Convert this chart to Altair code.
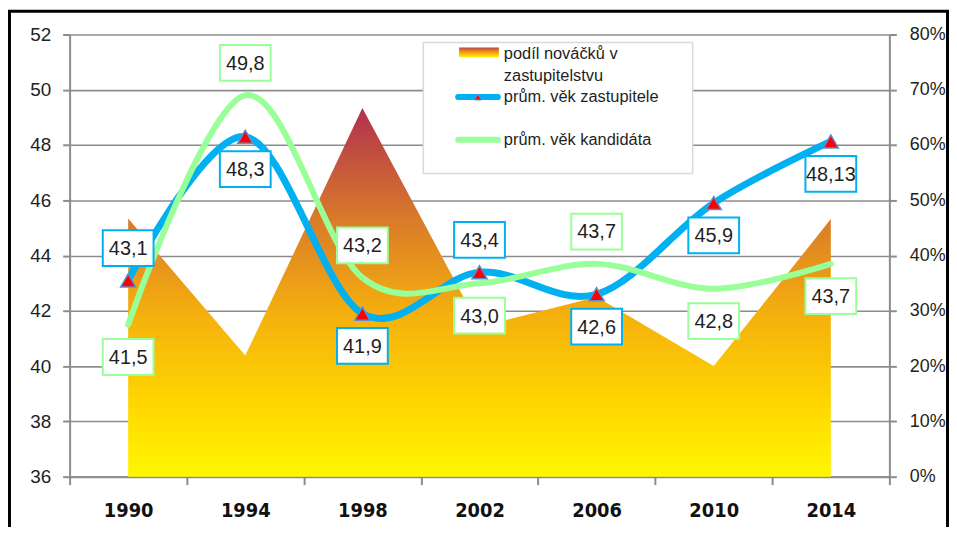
import altair as alt
import pandas as pd

# ---- data ----
years = ["1990", "1994", "1998", "2002", "2006", "2010", "2014"]
age_rep = [43.1, 48.3, 41.9, 43.4, 42.6, 45.9, 48.13]      # prům. věk zastupitele
age_cand = [41.5, 49.8, 43.2, 43.0, 43.7, 42.8, 43.7]      # prům. věk kandidáta
newcomer_share = [0.467, 0.219, 0.667, 0.271, 0.325, 0.200, 0.466]  # podíl nováčků
rep_label_side = [1, -1, -1, 1, -1, -1, -1]     # 1 = label above point, -1 = below
cand_label_side = [-1, 1, 1, -1, 1, -1, -1]
left_ticks = [36, 38, 40, 42, 44, 46, 48, 50, 52]
right_ticks = [0, 0.1, 0.2, 0.3, 0.4, 0.5, 0.6, 0.7, 0.8]

BLUE = "#00b0f0"
GREEN = "#99ff99"
GRAY = "#8c8c8c"
TXT = "#1f1f1f"
FONT = "Liberation Sans"
LABEL_OFF = 1.17  # label offset in axis units

def fmt(v):
    return str(v).replace(".", ",")

share_df = pd.DataFrame({"year": years, "share": newcomer_share})
rep_df = pd.DataFrame({"year": years, "value": age_rep, "side": rep_label_side,
                       "label": [fmt(v) for v in age_rep]})
cand_df = pd.DataFrame({"year": years, "value": age_cand, "side": cand_label_side,
                        "label": [fmt(v) for v in age_cand]})

W, H = 825, 445

X = alt.X("year:N", title=None,
          scale=alt.Scale(domain=years, paddingInner=0, paddingOuter=0),
          axis=alt.Axis(labelAngle=0, tickBand="extent", tickSize=8, grid=False,
                        labelFont="Liberation Sans Narrow, DejaVu Sans Condensed, Liberation Sans",
                        labelFontWeight="bold", labelFontSize=20, labelColor="#111",
                        labelPadding=16))

def Y(field):
    return alt.Y(field, title=None, scale=alt.Scale(domain=[36, 52], nice=False, zero=False),
                 axis=alt.Axis(values=left_ticks, grid=True, tickSize=7, labelPadding=12,
                               orient="left"))

grad = alt.Gradient(
    gradient="linear",
    stops=[alt.GradientStop(color="#b0304f", offset=0),
           alt.GradientStop(color="#d97a2a", offset=0.3),
           alt.GradientStop(color="#f4ae0e", offset=0.55),
           alt.GradientStop(color="#ffd600", offset=0.8),
           alt.GradientStop(color="#fff700", offset=1)],
    x1=0, x2=0, y1=0, y2=1)

area = alt.Chart(share_df).mark_area(color=grad, interpolate="linear").encode(
    x=X,
    y=alt.Y("share:Q", title=None, scale=alt.Scale(domain=[0, 0.8], nice=False),
            axis=alt.Axis(orient="right", format=".0%", values=right_ticks, grid=False,
                          tickSize=7, labelPadding=13, labelFontSize=18)),
)

rep_line = alt.Chart(rep_df).mark_line(color=BLUE, strokeWidth=7, interpolate="cardinal",
                                       strokeCap="round").encode(x=X, y=Y("value:Q"))
cand_line = alt.Chart(cand_df).mark_line(color=GREEN, strokeWidth=6, interpolate="cardinal",
                                         strokeCap="round").encode(x=X, y=Y("value:Q"))
tri = alt.Chart(rep_df).mark_point(shape="triangle-up", filled=True, fill="#ff0000",
                                   stroke="#5b8fd0", strokeWidth=1.5, size=230,
                                   opacity=1).encode(x=X, y=Y("value:Q"))

BOX = "M -1.42 -1 L 1.42 -1 L 1.42 1 L -1.42 1 Z"

def labels(df, col):
    base = alt.Chart(df).transform_calculate(
        ly=f"datum.value + datum.side * {LABEL_OFF}")
    box = base.mark_point(shape=BOX, filled=True, fill="white", stroke=col, strokeWidth=2,
                          size=1296, opacity=1).encode(x=X, y=Y("ly:Q"))
    txt = base.mark_text(font=FONT, fontSize=20, color=TXT, align="center",
                         baseline="middle", dy=1).encode(x=X, y=Y("ly:Q"), text="label:N")
    return box, txt

rb, rt = labels(rep_df, BLUE)
cb, ct = labels(cand_df, GREEN)

ages = alt.layer(rep_line, cand_line, tri, rb, rt, cb, ct)

# ---- hand-drawn legend (pixel positions in plot coordinates) ----
one = alt.Data(values=[{"k": 1}])
leg_box = alt.Chart(one).mark_rect(fill="white", stroke="#d9d9d9", strokeWidth=1.5).encode(
    x=alt.value(356), x2=alt.value(627), y=alt.value(8), y2=alt.value(140))
leg_grad = alt.Gradient(
    gradient="linear",
    stops=[alt.GradientStop(color="#c0404a", offset=0),
           alt.GradientStop(color="#f0a010", offset=0.5),
           alt.GradientStop(color="#fff200", offset=1)],
    x1=0, x2=0, y1=0, y2=1)
leg_sw = alt.Chart(one).mark_rect(fill=leg_grad).encode(
    x=alt.value(392), x2=alt.value(432), y=alt.value(13), y2=alt.value(23))
leg_b = alt.Chart(one).mark_rule(color=BLUE, strokeWidth=6, strokeCap="round").encode(
    x=alt.value(391), x2=alt.value(431), y=alt.value(63))
leg_bt = alt.Chart(one).mark_point(shape="triangle-up", filled=True, fill="#ff0000",
                                   stroke="#5b8fd0", strokeWidth=1, size=45,
                                   opacity=1).encode(x=alt.value(411), y=alt.value(63))
leg_g = alt.Chart(one).mark_rule(color=GREEN, strokeWidth=6, strokeCap="round").encode(
    x=alt.value(391), x2=alt.value(431), y=alt.value(106))

def leg_text(t, y):
    return alt.Chart(one).mark_text(text=t, font=FONT, fontSize=16.5, color=TXT,
                                    align="left", baseline="middle").encode(
        x=alt.value(437), y=alt.value(y))

leg = [leg_box, leg_sw, leg_b, leg_bt, leg_g,
       leg_text("podíl nováčků v", 20), leg_text("zastupitelstvu", 42),
       leg_text("prům. věk zastupitele", 63), leg_text("prům. věk kandidáta", 106)]

border = alt.Chart(one).mark_rect(fillOpacity=0, stroke="black", strokeWidth=3).encode(
    x=alt.value(-60.5), x2=alt.value(883.5), y=alt.value(-23.5), y2=alt.value(H + 80))

chart = alt.layer(area, ages, *leg, border).resolve_scale(y="independent").properties(
    width=W, height=H,
    padding={"left": 62, "top": 25, "right": 60, "bottom": 49},
    autosize=alt.AutoSizeParams(type="none"),
).configure_view(stroke=None).configure_axis(
    domainColor=GRAY, tickColor=GRAY, domainWidth=2, tickWidth=2,
    gridColor=GRAY, gridWidth=1.6, labelColor="#222", labelFont=FONT, labelFontSize=19,
)

chart.save("out.html", embed_options={"renderer": "svg", "actions": False})
